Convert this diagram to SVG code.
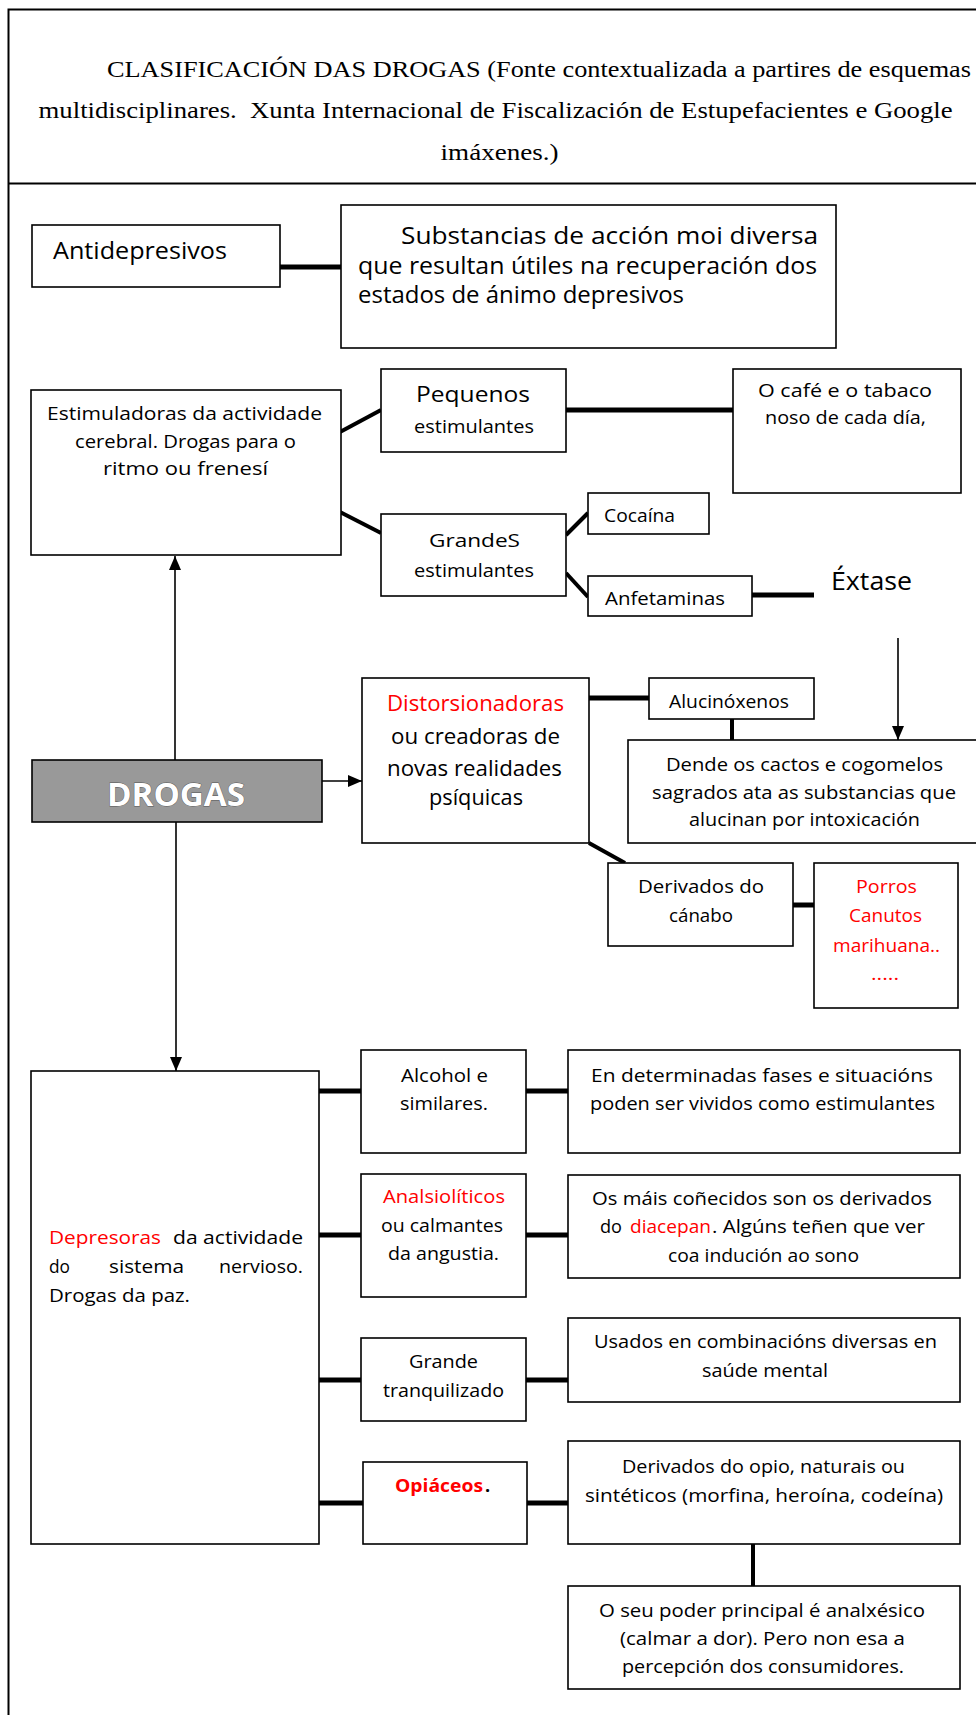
<svg xmlns="http://www.w3.org/2000/svg" width="976" height="1715" viewBox="0 0 976 1715">
<style>
.box{fill:#fff;stroke:#000;stroke-width:1.6}
.t{font-family:"Open Sans","DejaVu Sans",sans-serif;font-size:18px;fill:#000}
.m{font-size:22px}
.l{font-size:23px}
.r{fill:#ff0000}
.h{font-family:"Liberation Serif","Times New Roman",serif;font-size:24px;fill:#000}
.c{stroke:#000;stroke-width:5;fill:none}
.d{stroke:#000;stroke-width:4;fill:none}
.a{stroke:#000;stroke-width:1.6;fill:none}
</style>
<defs>
<marker id="ah" viewBox="0 0 14 12" refX="14" refY="6" markerWidth="14" markerHeight="12" orient="auto" markerUnits="userSpaceOnUse">
<path d="M0,0 L14,6 L0,12 z" fill="#000"/>
</marker>
</defs>
<rect x="0" y="0" width="976" height="1715" fill="#fff"/>
<g id="frame" fill="none" stroke="#000">
<path d="M8.5,1715 V9.5 H976" stroke-width="2"/>
<line x1="8" y1="183.5" x2="976" y2="183.5" stroke-width="2"/>
</g>
<g id="header">
<text class="h" x="107" y="76.5" textLength="864" lengthAdjust="spacingAndGlyphs">CLASIFICACIÓN DAS DROGAS (Fonte contextualizada a partires de esquemas</text>
<text class="h" x="38.6" y="117.5" textLength="914" lengthAdjust="spacingAndGlyphs" xml:space="preserve">multidisciplinares.  Xunta Internacional de Fiscalización de Estupefacientes e Google</text>
<text class="h" x="440.6" y="159.5" textLength="118" lengthAdjust="spacingAndGlyphs">imáxenes.)</text>
</g>
<g id="connectors">
<line class="c" x1="280" y1="267" x2="341" y2="267"/>
<line class="d" x1="340" y1="432" x2="381" y2="410"/>
<line class="d" x1="340" y1="512" x2="381" y2="533"/>
<line class="c" x1="566" y1="410" x2="733" y2="410"/>
<line class="d" x1="566" y1="535" x2="588" y2="513"/>
<line class="d" x1="566" y1="573" x2="588" y2="597"/>
<line class="c" x1="752" y1="595" x2="814" y2="595" stroke-width="6"/>
<line class="a" x1="175" y1="760" x2="175" y2="556" marker-end="url(#ah)"/>
<line class="a" x1="898" y1="638" x2="898" y2="740" marker-end="url(#ah)"/>
<line class="a" x1="322" y1="781" x2="362" y2="781" marker-end="url(#ah)"/>
<line class="a" x1="176" y1="822" x2="176" y2="1071" stroke="#555" marker-end="url(#ah)"/>
<line class="c" x1="589" y1="698" x2="649" y2="698"/>
<line class="d" x1="732" y1="719" x2="732" y2="740"/>
<line class="d" x1="589" y1="843" x2="625" y2="863"/>
<line class="c" x1="793" y1="905" x2="814" y2="905"/>
<line class="c" x1="319" y1="1091" x2="361" y2="1091"/>
<line class="c" x1="526" y1="1091" x2="568" y2="1091"/>
<line class="c" x1="319" y1="1235" x2="361" y2="1235"/>
<line class="c" x1="526" y1="1235" x2="568" y2="1235"/>
<line class="c" x1="319" y1="1380" x2="361" y2="1380"/>
<line class="c" x1="526" y1="1380" x2="568" y2="1380"/>
<line class="c" x1="319" y1="1503" x2="363" y2="1503"/>
<line class="c" x1="527" y1="1503" x2="568" y2="1503"/>
<line class="d" x1="753" y1="1544" x2="753" y2="1586"/>
</g>
<g id="antidepresivos">
<rect class="box" x="32" y="225" width="248" height="62"/>
<text class="t l" x="53" y="259" textLength="174" lengthAdjust="spacingAndGlyphs">Antidepresivos</text>
</g>
<g id="substancias">
<rect class="box" x="341" y="205" width="495" height="143"/>
<text class="t l" x="401" y="244" textLength="417" lengthAdjust="spacingAndGlyphs">Substancias de acción moi diversa</text>
<text class="t l" x="358" y="274" textLength="459" lengthAdjust="spacingAndGlyphs">que resultan útiles na recuperación dos</text>
<text class="t l" x="358" y="303" textLength="326" lengthAdjust="spacingAndGlyphs">estados de ánimo depresivos</text>
</g>
<g id="estimuladoras">
<rect class="box" x="31" y="390" width="310" height="165"/>
<text class="t" x="47" y="420" textLength="275" lengthAdjust="spacingAndGlyphs">Estimuladoras da actividade</text>
<text class="t" x="75" y="448" textLength="221" lengthAdjust="spacingAndGlyphs">cerebral. Drogas para o</text>
<text class="t" x="103" y="475" textLength="165" lengthAdjust="spacingAndGlyphs">ritmo ou frenesí</text>
</g>
<g id="pequenos">
<rect class="box" x="381" y="369" width="185" height="83"/>
<text class="t m" x="416" y="402" textLength="114" lengthAdjust="spacingAndGlyphs">Pequenos</text>
<text class="t" x="414" y="433" textLength="120" lengthAdjust="spacingAndGlyphs">estimulantes</text>
</g>
<g id="cafe">
<rect class="box" x="733" y="369" width="228" height="124"/>
<text class="t" x="758" y="397" textLength="174" lengthAdjust="spacingAndGlyphs">O café e o tabaco</text>
<text class="t" x="765" y="424" textLength="161" lengthAdjust="spacingAndGlyphs">noso de cada día,</text>
</g>
<g id="grandes">
<rect class="box" x="381" y="514" width="185" height="82"/>
<text class="t" x="429" y="547" textLength="91" lengthAdjust="spacingAndGlyphs">GrandeS</text>
<text class="t" x="414" y="577" textLength="120" lengthAdjust="spacingAndGlyphs">estimulantes</text>
</g>
<g id="cocaina">
<rect class="box" x="588" y="493" width="121" height="41"/>
<text class="t" x="604" y="522" textLength="71" lengthAdjust="spacingAndGlyphs">Cocaína</text>
</g>
<g id="anfetaminas">
<rect class="box" x="588" y="576" width="164" height="40"/>
<text class="t" x="605" y="605" textLength="120" lengthAdjust="spacingAndGlyphs">Anfetaminas</text>
</g>
<g id="extase">
<text class="t" x="831" y="590" font-size="25" style="font-size:25px" textLength="81" lengthAdjust="spacingAndGlyphs">Éxtase</text>
</g>
<g id="drogas">
<rect x="32" y="760" width="290" height="62" fill="#999" stroke="#000" stroke-width="1.6"/>
<text x="107" y="805.5" textLength="138" lengthAdjust="spacingAndGlyphs" style="font-family:'Open Sans','DejaVu Sans',sans-serif;font-size:33px;font-weight:bold;fill:#fff;stroke:#555;stroke-width:0.8;paint-order:stroke">DROGAS</text>
</g>
<g id="distorsionadoras">
<rect class="box" x="362" y="678" width="227" height="165"/>
<text class="t m r" x="387" y="711" textLength="177" lengthAdjust="spacingAndGlyphs">Distorsionadoras</text>
<text class="t m" x="391" y="744" textLength="169" lengthAdjust="spacingAndGlyphs">ou creadoras de</text>
<text class="t m" x="387" y="776" textLength="175" lengthAdjust="spacingAndGlyphs">novas realidades</text>
<text class="t m" x="429" y="805" textLength="94" lengthAdjust="spacingAndGlyphs">psíquicas</text>
</g>
<g id="alucinoxenos">
<rect class="box" x="649" y="678" width="165" height="41"/>
<text class="t" x="669" y="708" textLength="120" lengthAdjust="spacingAndGlyphs">Alucinóxenos</text>
</g>
<g id="dende">
<rect class="box" x="628" y="740" width="370" height="103"/>
<text class="t" x="666" y="771" textLength="277" lengthAdjust="spacingAndGlyphs">Dende os cactos e cogomelos</text>
<text class="t" x="652" y="799" textLength="304" lengthAdjust="spacingAndGlyphs">sagrados ata as substancias que</text>
<text class="t" x="689" y="826" textLength="231" lengthAdjust="spacingAndGlyphs">alucinan por intoxicación</text>
</g>
<g id="canabo">
<rect class="box" x="608" y="863" width="185" height="83"/>
<text class="t" x="638" y="893" textLength="126" lengthAdjust="spacingAndGlyphs">Derivados do</text>
<text class="t" x="669" y="922" textLength="64" lengthAdjust="spacingAndGlyphs">cánabo</text>
</g>
<g id="porros">
<rect class="box" x="814" y="863" width="144" height="145"/>
<text class="t r" x="856" y="893" textLength="61" lengthAdjust="spacingAndGlyphs">Porros</text>
<text class="t r" x="849" y="922" textLength="73" lengthAdjust="spacingAndGlyphs">Canutos</text>
<text class="t r" x="833" y="952" textLength="107" lengthAdjust="spacingAndGlyphs">marihuana..</text>
<text class="t r" x="871" y="980" textLength="28" lengthAdjust="spacingAndGlyphs">.....</text>
</g>
<g id="depresoras">
<rect class="box" x="31" y="1071" width="288" height="473"/>
<text class="t r" x="49" y="1244" textLength="112" lengthAdjust="spacingAndGlyphs">Depresoras</text>
<text class="t" x="173" y="1244" textLength="130" lengthAdjust="spacingAndGlyphs">da actividade</text>
<text class="t" x="49" y="1273" textLength="21" lengthAdjust="spacingAndGlyphs">do</text>
<text class="t" x="109" y="1273" textLength="75" lengthAdjust="spacingAndGlyphs">sistema</text>
<text class="t" x="219" y="1273" textLength="84" lengthAdjust="spacingAndGlyphs">nervioso.</text>
<text class="t" x="49" y="1302" textLength="141" lengthAdjust="spacingAndGlyphs">Drogas da paz.</text>
</g>
<g id="alcohol">
<rect class="box" x="361" y="1050" width="165" height="103"/>
<text class="t" x="401" y="1082" textLength="87" lengthAdjust="spacingAndGlyphs">Alcohol e</text>
<text class="t" x="400" y="1110" textLength="88" lengthAdjust="spacingAndGlyphs">similares.</text>
</g>
<g id="determinadas">
<rect class="box" x="568" y="1050" width="392" height="103"/>
<text class="t" x="591" y="1082" textLength="342" lengthAdjust="spacingAndGlyphs">En determinadas fases e situacións</text>
<text class="t" x="590" y="1110" textLength="345" lengthAdjust="spacingAndGlyphs">poden ser vividos como estimulantes</text>
</g>
<g id="analsioliticos">
<rect class="box" x="361" y="1174" width="165" height="123"/>
<text class="t r" x="383" y="1203" textLength="122" lengthAdjust="spacingAndGlyphs">Analsiolíticos</text>
<text class="t" x="381" y="1232" textLength="122" lengthAdjust="spacingAndGlyphs">ou calmantes</text>
<text class="t" x="388" y="1260" textLength="111" lengthAdjust="spacingAndGlyphs">da angustia.</text>
</g>
<g id="osmais">
<rect class="box" x="568" y="1175" width="392" height="103"/>
<text class="t" x="592" y="1205" textLength="340" lengthAdjust="spacingAndGlyphs">Os máis coñecidos son os derivados</text>
<text class="t" x="600" y="1233" textLength="22" lengthAdjust="spacingAndGlyphs">do</text>
<text class="t r" x="630" y="1233" textLength="81" lengthAdjust="spacingAndGlyphs">diacepan</text>
<text class="t" x="712" y="1233" textLength="213" lengthAdjust="spacingAndGlyphs">. Algúns teñen que ver</text>
<text class="t" x="668" y="1262" textLength="191" lengthAdjust="spacingAndGlyphs">coa indución ao sono</text>
</g>
<g id="tranquilizado">
<rect class="box" x="361" y="1338" width="165" height="83"/>
<text class="t" x="409" y="1368" textLength="69" lengthAdjust="spacingAndGlyphs">Grande</text>
<text class="t" x="383" y="1397" textLength="121" lengthAdjust="spacingAndGlyphs">tranquilizado</text>
</g>
<g id="usados">
<rect class="box" x="568" y="1318" width="392" height="84"/>
<text class="t" x="594" y="1348" textLength="343" lengthAdjust="spacingAndGlyphs">Usados en combinacións diversas en</text>
<text class="t" x="702" y="1377" textLength="126" lengthAdjust="spacingAndGlyphs">saúde mental</text>
</g>
<g id="opiaceos">
<rect class="box" x="363" y="1462" width="164" height="82"/>
<text class="t r" x="395" y="1492" textLength="88" lengthAdjust="spacingAndGlyphs" font-weight="bold" style="font-weight:bold">Opiáceos</text>
<text class="t" x="485" y="1492" font-weight="bold" style="font-weight:bold">.</text>
</g>
<g id="opio">
<rect class="box" x="568" y="1441" width="392" height="103"/>
<text class="t" x="622" y="1473" textLength="283" lengthAdjust="spacingAndGlyphs">Derivados do opio, naturais ou</text>
<text class="t" x="585" y="1502" textLength="358" lengthAdjust="spacingAndGlyphs">sintéticos (morfina, heroína, codeína)</text>
</g>
<g id="poder">
<rect class="box" x="568" y="1586" width="392" height="103"/>
<text class="t" x="599" y="1617" textLength="326" lengthAdjust="spacingAndGlyphs">O seu poder principal é analxésico</text>
<text class="t" x="620" y="1645" textLength="285" lengthAdjust="spacingAndGlyphs">(calmar a dor). Pero non esa a</text>
<text class="t" x="622" y="1673" textLength="282" lengthAdjust="spacingAndGlyphs">percepción dos consumidores.</text>
</g>
</svg>
